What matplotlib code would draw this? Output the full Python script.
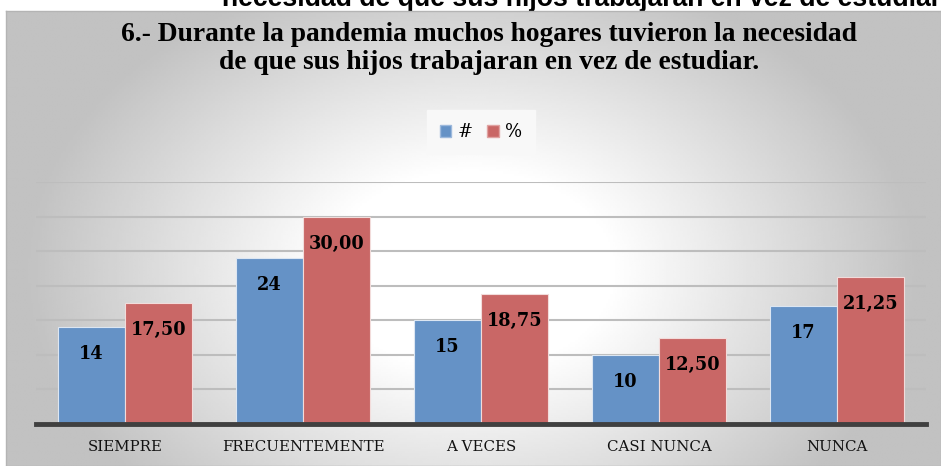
import numpy as np
import matplotlib
matplotlib.use('Agg')
import matplotlib.pyplot as plt
from matplotlib.patches import Patch

# Data
categories = ['SIEMPRE', 'FRECUENTEMENTE', 'A VECES', 'CASI NUNCA', 'NUNCA']
counts = [14, 24, 15, 10, 17]
percents = [17.50, 30.00, 18.75, 12.50, 21.25]
series_names = ['#', '%']
title_lines = ['6.- Durante la pandemia muchos hogares tuvieron la necesidad',
               'de que sus hijos trabajaran en vez de estudiar.']
cut_text = 'necesidad de que sus hijos trabajaran en vez de estudiar'

W, H = 941, 466
blue = '#6592c6'
red = '#c96766'

fig = plt.figure(figsize=(W / 100, H / 100), dpi=100)
fig.patch.set_facecolor('white')

# Clipped heading left over above the chart frame
fig.text(222 / W, 1 - 6 / H, cut_text, family='Liberation Sans', weight='bold',
         fontsize=19.2, ha='left', va='baseline', zorder=-1)

# Chart frame with a soft gradient from the middle outwards
bg = fig.add_axes([6 / W, 0, (W - 6) / W, (H - 11) / H], zorder=0)
gx, gy = np.meshgrid(np.linspace(0, W - 6, 400), np.linspace(0, H - 11, 200))
t = np.sqrt(((gx - 465) / 470) ** 2 + ((gy - 260) / 330) ** 2)
t = np.clip((t - 0.3) / 0.65, 0, 1)
shade = 1 - 0.24 * t
bg.imshow(shade, cmap='gray', vmin=0, vmax=1, aspect='auto',
          extent=[0, 1, 0, 1], origin='upper', interpolation='bilinear')
bg.set_xticks([])
bg.set_yticks([])
for s in bg.spines.values():
    s.set_color('#b4b4b4')
    s.set_linewidth(1)

# Title
fig.text(489 / W, 1 - 41 / H, title_lines[0], family='Liberation Serif',
         weight='bold', fontsize=19.8, ha='center', va='baseline', zorder=3)
fig.text(489 / W, 1 - 69 / H, title_lines[1], family='Liberation Serif',
         weight='bold', fontsize=19.8, ha='center', va='baseline', zorder=3)

# Bars
ax = fig.add_axes([36 / W, 1 - 424 / H, 890 / W, 242 / H], zorder=1)
ax.patch.set_alpha(0)
x = np.arange(len(categories))
w = 0.376
b1 = ax.bar(x - w / 2, counts, w, color=blue, edgecolor='#dce6f2', linewidth=0.8, zorder=3)
b2 = ax.bar(x + w / 2, percents, w, color=red, edgecolor='#f2dcdb', linewidth=0.8, zorder=3)

for rect, v in zip(b1, counts):
    ax.annotate(f'{v}', (rect.get_x() + rect.get_width() / 2, v), xytext=(0, -32),
                textcoords='offset pixels', ha='center', va='baseline',
                family='DejaVu Serif', weight='bold', fontsize=12.8, zorder=4)
for rect, v in zip(b2, percents):
    ax.annotate(f'{v:.2f}'.replace('.', ','), (rect.get_x() + rect.get_width() / 2, v),
                xytext=(0, -32), textcoords='offset pixels', ha='center', va='baseline',
                family='DejaVu Serif', weight='bold', fontsize=12.8, zorder=4)

ax.set_xlim(-0.5, len(categories) - 0.5)
ax.set_ylim(0, 35)
ax.set_yticks(np.arange(0, 36, 5))
ax.yaxis.grid(True, color='#bdbdbd', linewidth=1.5, zorder=0)
ax.set_axisbelow(True)
ax.tick_params(axis='y', left=False, labelleft=False)
ax.tick_params(axis='x', bottom=False, pad=8)
ax.set_xticks(x)
ax.set_xticklabels(categories, family='DejaVu Serif', fontsize=10.8, color='#111111')
for side in ['top', 'right', 'left']:
    ax.spines[side].set_visible(False)
ax.spines['bottom'].set_color('#404040')
ax.spines['bottom'].set_linewidth(3.5)
ax.spines['bottom'].set_zorder(5)

# Legend
handles = [Patch(facecolor=blue, edgecolor='#9db9dc', label=series_names[0]),
           Patch(facecolor=red, edgecolor='#e0a3a2', label=series_names[1])]
leg = fig.legend(handles=handles, loc='center', bbox_to_anchor=(481 / W, 1 - 132 / H),
                 ncol=2, frameon=True, fancybox=False, facecolor='#f8f8f8',
                 edgecolor='#f8f8f8', framealpha=1, handlelength=0.65, handleheight=0.65,
                 handletextpad=0.35, columnspacing=0.8, borderpad=0.7,
                 prop={'family': 'DejaVu Serif', 'size': 13})
leg.set_zorder(5)

plt.savefig('out.png', dpi=100)
